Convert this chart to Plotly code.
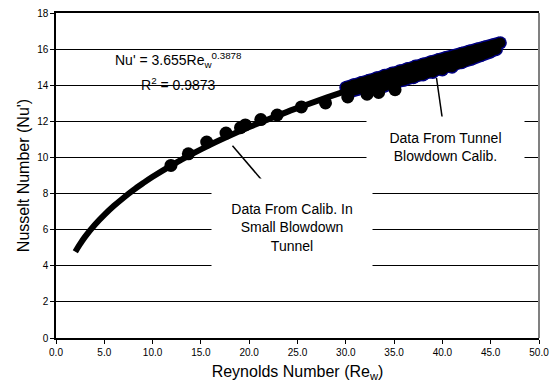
import plotly.graph_objects as go

# Fitted trendline Nu' = 3.655 Re^0.3878
fit_re = [2, 2.5, 3, 4, 5, 6, 7, 8, 9, 10, 12, 14, 16, 18, 20, 22, 24, 26, 28,
          30, 32, 34, 36, 38, 40, 42, 44, 46]
fit_nu = [4.78, 5.21, 5.60, 6.26, 6.82, 7.32, 7.77, 8.19, 8.57, 8.93, 9.58, 10.17,
          10.71, 11.21, 11.68, 12.12, 12.54, 12.93, 13.31, 13.67, 14.01, 14.35,
          14.67, 14.98, 15.28, 15.57, 15.86, 16.13]

# Small blowdown tunnel calibration points
small_re = [11.9, 13.7, 15.6, 17.6, 19.1, 19.6, 21.2, 22.9, 25.4, 27.9, 30.2,
            32.2, 33.4, 35.1]
small_nu = [9.56, 10.2, 10.85, 11.35, 11.65, 11.8, 12.1, 12.35, 12.8, 13.02, 13.35,
            13.5, 13.6, 13.75]

# Tunnel blowdown calibration points (dense band), three runs
tun_re_a = [30.0, 30.8, 31.6, 32.4, 33.2, 34.0, 34.8, 35.6, 36.4, 37.2, 38.0, 38.8,
            39.6, 40.4, 41.2, 42.0, 42.8, 43.6, 44.4, 45.2, 46.0]
tun_nu_a = [13.88, 14.02, 14.15, 14.27, 14.41, 14.55, 14.68, 14.80, 14.93, 15.06,
            15.17, 15.30, 15.42, 15.53, 15.65, 15.77, 15.90, 16.00, 16.12, 16.23, 16.35]
tun_re_b = [30.4, 31.2, 32.0, 32.8, 33.6, 34.4, 35.2, 36.0, 36.8, 37.6, 38.4, 39.2,
            40.0, 40.8, 41.6, 42.4, 43.2, 44.0, 44.8, 45.6]
tun_nu_b = [13.64, 13.78, 13.91, 14.05, 14.18, 14.31, 14.44, 14.57, 14.69, 14.82,
            14.93, 15.06, 15.18, 15.30, 15.41, 15.53, 15.64, 15.76, 15.87, 15.98]
tun_re_c = [33.0, 34.0, 35.0, 36.0, 37.0, 38.0, 39.0, 40.0, 41.0, 42.0, 43.0, 44.0,
            45.0]
tun_nu_c = [13.80, 13.95, 14.10, 14.27, 14.42, 14.57, 14.71, 14.85, 15.00, 15.25,
            15.45, 15.65, 15.85]

x_ticks = [0, 5, 10, 15, 20, 25, 30, 35, 40, 45, 50]
x_tick_labels = ["0.0", "5.0", "10.0", "15.0", "20.0", "25.0", "30.0", "35.0",
                 "40.0", "45.0", "50.0"]
y_ticks = [0, 2, 4, 6, 8, 10, 12, 14, 16, 18]

FONT = "Liberation Sans, Arial, sans-serif"

tun_re = tun_re_a + [None] + tun_re_b + [None] + tun_re_c
tun_nu = tun_nu_a + [None] + tun_nu_b + [None] + tun_nu_c

fig = go.Figure()
fig.add_trace(go.Scatter(x=tun_re, y=tun_nu, mode="lines+markers",
                         line=dict(color="#000080", width=13),
                         marker=dict(color="#000080", size=13, line=dict(width=0)),
                         showlegend=False, hoverinfo="skip", connectgaps=False))
fig.add_trace(go.Scatter(x=tun_re, y=tun_nu, mode="lines+markers",
                         line=dict(color="black", width=10),
                         marker=dict(color="black", size=10, line=dict(width=0)),
                         showlegend=False, connectgaps=False))
fig.add_trace(go.Scatter(x=fit_re, y=fit_nu, mode="lines",
                         line=dict(color="black", width=6, shape="spline"),
                         showlegend=False))
fig.add_trace(go.Scatter(x=small_re, y=small_nu, mode="markers",
                         marker=dict(color="black", size=13, line=dict(width=0)),
                         showlegend=False))

# pointer lines
fig.add_shape(type="line", x0=18.27, y0=10.65, x1=21.73, y1=8.48,
              line=dict(color="black", width=1.5), layer="above")
fig.add_shape(type="line", x0=39.39, y0=14.40, x1=40.0, y1=12.12,
              line=dict(color="black", width=1.5), layer="above")
# right border (grey)
fig.add_shape(type="line", xref="paper", yref="paper", x0=1, x1=1, y0=0, y1=1,
              line=dict(color="#808080", width=2))

fig.add_annotation(x=24.39, y=6.1, xref="x", yref="y", showarrow=False,
                   text="Data From Calib. In<br>Small Blowdown<br>Tunnel",
                   font=dict(family=FONT, size=14, color="black"),
                   bgcolor="white", width=158, height=95, align="center")
fig.add_annotation(x=40.36, y=10.6, xref="x", yref="y", showarrow=False,
                   text="Data From Tunnel<br>Blowdown Calib.",
                   font=dict(family=FONT, size=14, color="black"),
                   bgcolor="white", width=155, height=58, align="center")
fig.add_annotation(x=12.7, y=15.42, xref="x", yref="y", showarrow=False,
                   text="Nu' = 3.655Re<sub>w</sub><sup>0.3878</sup>",
                   font=dict(family=FONT, size=14, color="black"))
fig.add_annotation(x=12.7, y=14.07, xref="x", yref="y", showarrow=False,
                   text="R<sup>2</sup> = 0.9873",
                   font=dict(family=FONT, size=14, color="black"))

fig.update_layout(
    width=556, height=390,
    margin=dict(l=56, r=10, t=7, b=52),
    paper_bgcolor="white", plot_bgcolor="white",
    font=dict(family=FONT, color="black"),
    xaxis=dict(range=[0, 50], tickvals=x_ticks, ticktext=x_tick_labels,
               showgrid=False, zeroline=False, showline=True, linecolor="black",
               linewidth=1.5, mirror=True, ticks="outside", ticklen=4,
               tickcolor="black", tickfont=dict(size=10, family=FONT),
               ticklabeloverflow="allow",
               title=dict(text="Reynolds Number (Re<sub>w</sub>)",
                          font=dict(size=16, family=FONT), standoff=9)),
    yaxis=dict(range=[0, 18], tickvals=y_ticks, showgrid=True, gridcolor="black",
               gridwidth=1, zeroline=False, showline=True, linecolor="black",
               linewidth=1.5, ticks="outside", ticklen=4, tickcolor="black",
               tickfont=dict(size=10, family=FONT),
               title=dict(text="Nusselt Number (Nu')",
                          font=dict(size=16, family=FONT), standoff=4)),
)

fig.write_html("out.html")
